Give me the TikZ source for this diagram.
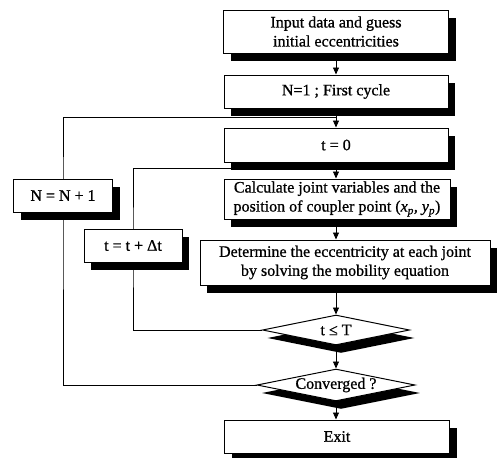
\documentclass[tikz,border=0pt]{standalone}
\usepackage{fontspec}
\setmainfont[FakeBold=0.8]{Liberation Serif}
\usetikzlibrary{shapes.geometric,shadows,arrows.meta,backgrounds}
\begin{document}
\begin{tikzpicture}[x=1pt,y=-1pt,
  pbox/.style={draw,fill=white,line width=1pt,
    drop shadow={shadow xshift=7pt,shadow yshift=-8pt,fill=black,opacity=1},
    inner sep=0pt,align=center,font=\fontsize{16}{19}\selectfont},
  dec/.style={diamond,aspect=5,draw,fill=white,line width=1pt,
    drop shadow={shadow xshift=5pt,shadow yshift=-8pt,fill=black,opacity=1},
    inner sep=0pt,font=\fontsize{16}{19}\selectfont},
  arr/.style={-{Triangle[length=7pt,width=6pt]},line width=0.9pt},
  ln/.style={line width=0.9pt}]
\useasboundingbox (0,0) rectangle (501,458);
\node[pbox,minimum width=225pt,minimum height=43pt] (inp) at (336,31.5) {Input data and guess\\initial eccentricities};
\node[pbox,minimum width=224pt,minimum height=33pt] (n1) at (336,91.5) {N=1 ; First cycle};
\node[pbox,minimum width=224pt,minimum height=34pt] (t0) at (336,145) {t = 0};
\node[pbox,minimum width=226pt,minimum height=40pt] (calc) at (337,199) {Calculate joint variables and the\\position of coupler point ({\itshape x\textsubscript{p}, y\textsubscript{p}})};
\node[pbox,minimum width=290pt,minimum height=45pt] (det) at (345,262.5) {Determine the eccentricity at each joint\\by solving the mobility equation};
\node[dec,minimum width=147pt,minimum height=30pt] (tt) at (336,330) {t ≤ T};
\node[dec,minimum width=158pt,minimum height=32pt] (conv) at (336,385) {Converged ?};
\node[pbox,minimum width=225pt,minimum height=33pt] (exit) at (337,436.5) {Exit};
\node[pbox,minimum width=99pt,minimum height=33pt] (nn) at (63,195.5) {N = N + 1};
\node[pbox,minimum width=98pt,minimum height=33pt] (tdt) at (133,245.5) {t = t + Δt};
\coordinate (j1) at (336,117);
\coordinate (j2) at (336,168);
\draw[arr] (inp.south) -- (n1.north);
\draw[arr] (n1.south) -- (t0.north);
\draw[arr] (t0.south) -- (t0.south |- calc.north);
\draw[arr] (t0.south |- calc.south) -- (t0.south |- det.north);
\draw[arr] (tt.north |- det.south) -- (tt.north);
\draw[arr] (tt.south) -- (conv.north);
\draw[arr] (conv.south) -- (conv.south |- exit.north);
\begin{scope}[on background layer]
\draw[ln] (conv.west) -| (nn.center) |- (j1);
\draw[ln] (tt.west) -| (tdt.center) |- (j2);
\end{scope}
\end{tikzpicture}
\end{document}
